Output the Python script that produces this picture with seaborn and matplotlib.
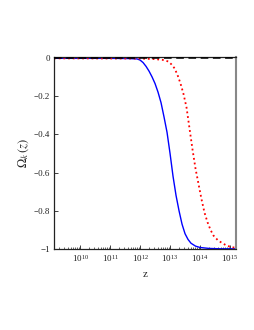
import numpy as np
import pandas as pd
import matplotlib
matplotlib.use("Agg")
import matplotlib.pyplot as plt
import seaborn as sns

# values (log10 z, Omega_k)
blue_logz = [9.13, 11.0, 11.6, 11.9, 12.0, 12.1, 12.2, 12.3, 12.4, 12.5, 12.6, 12.7, 12.8, 12.9,
             13.0, 13.1, 13.2, 13.3, 13.4, 13.5, 13.6, 13.7, 13.85, 14.0, 14.3, 14.7, 15.2]
blue_om = [-0.003, -0.003, -0.004, -0.006, -0.012, -0.025, -0.045, -0.07, -0.10, -0.135, -0.18,
           -0.235, -0.31, -0.39, -0.50, -0.62, -0.72, -0.80, -0.87, -0.92, -0.95, -0.97, -0.985,
           -0.992, -0.997, -0.999, -0.999]

red_logz = [9.13, 12.0, 12.5, 12.8, 12.95, 13.05, 13.15, 13.25, 13.35, 13.45, 13.55, 13.65, 13.75,
            13.85, 13.95, 14.05, 14.15, 14.25, 14.35, 14.45, 14.6, 14.75, 14.9, 15.05, 15.2]
red_om = [-0.003, -0.004, -0.007, -0.012, -0.02, -0.035, -0.055, -0.09, -0.135, -0.19, -0.26,
          -0.37, -0.48, -0.58, -0.66, -0.74, -0.81, -0.86, -0.90, -0.93, -0.955, -0.97, -0.983,
          -0.99, -0.994]

zero_logz = [9.13, 15.2]
zero_om = [0.0, 0.0]

yticks = [0, -0.2, -0.4, -0.6, -0.8, -1]
ytick_labels = ["0", "\u22120.2", "\u22120.4", "\u22120.6", "\u22120.8", "\u22121"]

blue = pd.DataFrame({"z": 10 ** np.array(blue_logz), "om": blue_om})
red = pd.DataFrame({"z": 10 ** np.array(red_logz), "om": red_om})
zero = pd.DataFrame({"z": 10 ** np.array(zero_logz), "om": zero_om})

sns.set_style("ticks")
plt.rcParams["font.family"] = ["Liberation Serif", "DejaVu Serif"]
plt.rcParams["mathtext.fontset"] = "stix"

fig = plt.figure(figsize=(2.55, 3.3), dpi=100)
ax = fig.add_axes([54 / 255, 1 - 249 / 330, (236 - 54) / 255, (249 - 57) / 330])

sns.lineplot(data=zero, x="z", y="om", ax=ax, color="black", lw=1.1,
             linestyle=(0, (5, 3)), zorder=3)
sns.lineplot(data=blue, x="z", y="om", ax=ax, color="blue", lw=1.0)
sns.lineplot(data=red, x="z", y="om", ax=ax, color="red", lw=1.3,
             linestyle=(0, (1, 1.6)))

ax.set_xscale("log")
ax.set_xlim(10 ** 9.13, 10 ** 15.2)
ax.set_ylim(-1.0, 0.004)
ax.set_yticks(yticks)
ax.set_yticklabels(ytick_labels)
ax.set_xticks([1e10, 1e11, 1e12, 1e13, 1e14, 1e15])
ax.xaxis.set_minor_locator(matplotlib.ticker.LogLocator(base=10, subs=np.arange(2, 10), numticks=20))
ax.xaxis.set_minor_formatter(matplotlib.ticker.NullFormatter())

ax.tick_params(axis="both", which="major", direction="in", length=3, width=0.6,
               labelsize=6.5, pad=3, colors="#222222")
ax.tick_params(axis="x", which="minor", direction="in", length=1.8, width=0.5)
for s in ["left", "bottom", "top"]:
    ax.spines[s].set_color("#222222")
    ax.spines[s].set_linewidth(0.9)
ax.spines["right"].set_color("#888888")
ax.spines["right"].set_linewidth(1.5)

ax.set_xlabel("z", fontsize=8, labelpad=4)
ax.set_ylabel(r"$\Omega_k\,(z)$", fontsize=9, labelpad=2)

fig.savefig("out.png", dpi=100)
